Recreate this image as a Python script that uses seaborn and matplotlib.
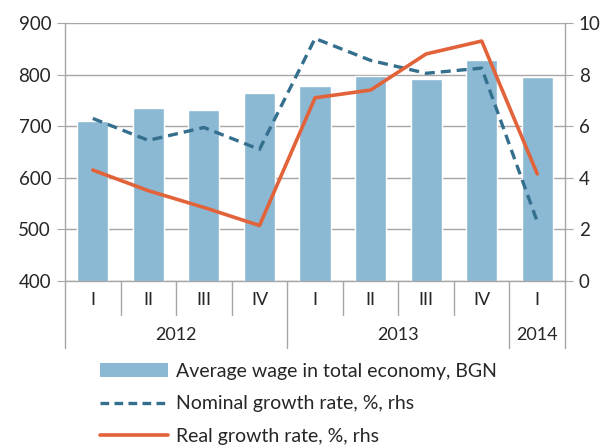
import numpy as np
import pandas as pd
import matplotlib
matplotlib.use("Agg")
import matplotlib.pyplot as plt
import seaborn as sns
from matplotlib.patches import Patch
from matplotlib.lines import Line2D

# data
years = ["2012", "2012", "2012", "2012", "2013", "2013", "2013", "2013", "2014"]
quarters = ["I", "II", "III", "IV", "I", "II", "III", "IV", "I"]
wage = [711, 736, 732, 764, 778, 798, 791, 828, 795]
nominal = [6.3, 5.45, 5.95, 5.1, 9.4, 8.55, 8.05, 8.25, 2.3]
real = [4.3, 3.5, 2.85, 2.15, 7.1, 7.4, 8.8, 9.3, 4.15]

labels = {
    "wage": "Average wage in total economy, BGN",
    "nominal": "Nominal growth rate, %, rhs",
    "real": "Real growth rate, %, rhs",
}

BAR_C = "#8BB9D4"
NOM_C = "#356F8E"
REAL_C = "#E2623A"
GRID_C = "#A6A6A6"

df = pd.DataFrame({"year": years, "quarter": quarters, "wage": wage,
                   "nominal": nominal, "real": real})
df["period"] = df["year"] + " " + df["quarter"]
df["pos"] = np.arange(len(df))

sns.set_style("white")
plt.rcParams["font.family"] = ["Lato", "DejaVu Sans"]

fig = plt.figure(figsize=(6.1, 4.48), dpi=100)
ax = fig.add_axes([0.1066, 0.3728, 0.8197, 0.5759])

sns.barplot(data=df, x="period", y="wage", color=BAR_C, saturation=1,
            width=0.56, ax=ax, zorder=2)
ax.set_ylim(400, 900)
ax.set_yticks(range(400, 901, 100))
ax.set_xlim(-0.5, len(df) - 0.5)
ax.set_xlabel("")
ax.set_ylabel("")
ax.set_xticks([])
ax.grid(axis="y", color=GRID_C, lw=1)
ax.set_axisbelow(True)
for s in ["top", "right"]:
    ax.spines[s].set_visible(False)
for s in ["left", "bottom"]:
    ax.spines[s].set_color(GRID_C)
    ax.spines[s].set_linewidth(1)
ax.tick_params(axis="y", length=6, color=GRID_C, labelsize=13.5, pad=4)

ax2 = ax.twinx()
sns.lineplot(data=df, x="pos", y="nominal", color=NOM_C, lw=2.4,
             ax=ax2, zorder=3)
ax2.lines[-1].set_dashes((3.0, 1.8))
sns.lineplot(data=df, x="pos", y="real", color=REAL_C, lw=2.6,
             ax=ax2, zorder=4)
ax2.set_ylim(0, 10)
ax2.set_yticks(range(0, 11, 2))
ax2.set_xlim(-0.5, len(df) - 0.5)
ax2.set_xlabel("")
ax2.set_ylabel("")
for s in ["top", "left", "bottom"]:
    ax2.spines[s].set_visible(False)
ax2.spines["right"].set_color(GRID_C)
ax2.spines["right"].set_linewidth(1)
ax2.tick_params(axis="y", length=6, color=GRID_C, labelsize=13.5, pad=4)

# two-level category axis
tr = ax.get_xaxis_transform()
h = ax.bbox.height
q_len = 34 / h
y_len = 67 / h
for i, q in enumerate(quarters):
    ax.text(i, -19 / h, q, transform=tr, ha="center", va="center", fontsize=13)
bounds = [-0.5]
for i in range(1, len(years)):
    if years[i] != years[i - 1]:
        bounds.append(i - 0.5)
bounds.append(len(years) - 0.5)
for i in range(len(quarters) + 1):
    x = i - 0.5
    ln = y_len if x in bounds else q_len
    ax.plot([x, x], [0, -ln], transform=tr, color=GRID_C, lw=1, clip_on=False)
for a, b in zip(bounds[:-1], bounds[1:]):
    ax.text((a + b) / 2, -54 / h, years[int(a + 0.5)], transform=tr,
            ha="center", va="center", fontsize=13)

handles = [
    Patch(facecolor=BAR_C, edgecolor="none", label=labels["wage"]),
    Line2D([], [], color=NOM_C, lw=2.4, dashes=(2.6, 1.6), label=labels["nominal"]),
    Line2D([], [], color=REAL_C, lw=2.6, label=labels["real"]),
]
fig.legend(handles=handles, loc="upper left", bbox_to_anchor=(0.164, 0.19),
           frameon=False, fontsize=14, handlelength=3.5, handletextpad=0.4,
           labelspacing=0.8, borderpad=0, borderaxespad=0)

fig.savefig("out.png", dpi=100)
